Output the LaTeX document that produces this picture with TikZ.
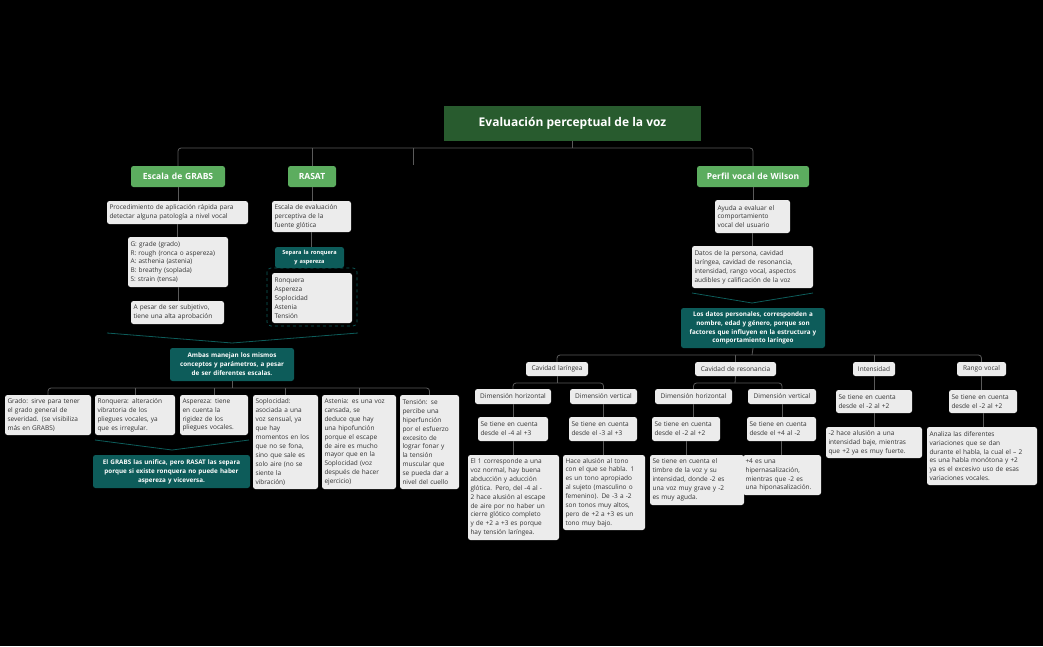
\documentclass[tikz,border=0pt]{standalone}
\usepackage{fontspec}
\setmainfont{Open Sans}
\definecolor{bg}{HTML}{000000}
\definecolor{ttl}{HTML}{285B2E}
\definecolor{grn}{HTML}{5CAD5F}
\definecolor{tl}{HTML}{0D5C5A}
\definecolor{lb}{HTML}{ECECEC}
\definecolor{ln}{HTML}{5A5A5A}
\newcommand\nohy{\hyphenpenalty=10000\relax\exhyphenpenalty=10000\relax}
\tikzset{
 lbox/.style={fill=lb,rounded corners=2.5pt,text=black!80,align=left,font=\fontsize{6.5}{8.9}\selectfont\nohy},
 tbox/.style={fill=tl,rounded corners=2.5pt,text=white,align=center,font=\bfseries\fontsize{6.3}{8.9}\selectfont\nohy},
 gbox/.style={fill=grn,rounded corners=2.5pt,text=white,align=center,font=\bfseries\fontsize{8.5}{10}\selectfont},
 conn/.style={draw=ln,line width=0.8pt,rounded corners=3pt},
 brc/.style={draw=tl,line width=0.8pt},
}
\newcommand\bx[7]{%
 \pgfmathsetmacro\bw{#5-#3}\pgfmathsetmacro\bh{#6-#4}\pgfmathsetmacro\tw{#5-#3-5}%
 \node[#2,inner xsep=2.5pt,inner ysep=1.5pt,minimum width=\bw pt,minimum height=\bh pt,text width=\tw pt] (#1) at ({(#3+#5)/2},{(#4+#6)/2}) {#7};}
\begin{document}
\begin{tikzpicture}[x=1pt,y=-1pt]
\fill[bg] (0,0) rectangle (1043,646);
\useasboundingbox (0,0) rectangle (1043,646);
% title and level 1
\node[fill=ttl,text=white,font=\bfseries\fontsize{12}{14}\selectfont,minimum width=257pt,minimum height=35pt] (title) at (572.5,123.5) {Evaluación perceptual de la voz};
\bx{grabs}{gbox,align=center}{131}{166}{225}{187}{Escala de GRABS}
\bx{rasat}{gbox,align=center}{288}{166}{336}{187}{RASAT}
\bx{wil}{gbox,align=center}{697}{166}{809}{187}{Perfil vocal de Wilson}
\coordinate (tb) at (413,148);
\draw[conn] (grabs.north) |- (tb) -| (wil.north);
\draw[conn] (rasat.north) -- (rasat.north |- tb);
\draw[conn] (title.south) -- (title.south |- tb);
\draw[conn] (tb) -- ++(0,17) coordinate (stub);
% GRABS
\bx{proc}{lbox}{107}{201}{248}{224}{Procedimiento de aplicación rápida para\\detectar alguna patología a nivel vocal}
\bx{list}{lbox}{128}{237}{228}{287}{G: grade (grado)\\R: rough (ronca o aspereza)\\A: asthenia (astenia)\\B: breathy (soplada)\\S: strain (tensa)}
\bx{apesar}{lbox}{131}{301}{224}{324}{A pesar de ser subjetivo,\\tiene una alta aprobación}
\draw[conn] (grabs.south) -- (grabs.south |- proc.north);
\draw[conn] (proc.south) -- (proc.south |- list.north);
\draw[conn] (list.south) -- (list.south |- apesar.north);
% RASAT
\bx{esc}{lbox}{272}{201}{351}{232}{Escala de evaluación\\perceptiva de la\\fuente glótica}
\bx{sep}{tbox,align=center}{275}{247}{344}{268}{\fontsize{5.6}{8}\selectfont Separa la ronquera\\y aspereza}
\draw[tl,dashed,line width=0.7pt,rounded corners=4pt] (267,268) rectangle (357,326);
\bx{rlist}{lbox}{272}{273}{352}{323}{Ronquera\\Aspereza\\Soplocidad\\Astenia\\Tensión}
\draw[conn] (rasat.south) -- (rasat.south |- esc.north);
\draw[conn] (esc.south) -- (esc.south |- sep.north);
% brace 1
\coordinate (b1a) at (107,333); \coordinate (b1b) at (232,343); \coordinate (b1c) at (358,333);
\draw[brc] (b1a) -- (b1b) -- (b1c);
\bx{ambas}{tbox}{170}{348}{294}{381}{Ambas manejan los mismos\\conceptos y parámetros, a pesar\\de ser diferentes escalas.}
\bx{grado}{lbox}{5}{395}{91}{435}{Grado: sirve para tener\\el grado general de\\severidad. (se visibiliza\\más en GRABS)}
\bx{ronq}{lbox}{95}{395}{175}{435}{Ronquera: alteración\\vibratoria de los\\pliegues vocales, ya\\que es irregular.}
\bx{asp}{lbox}{180}{395}{248}{435}{Aspereza: tiene\\en cuenta la\\rigidez de los\\pliegues vocales.}
\bx{sopl}{lbox}{253}{395}{318}{489}{Soplocidad:\\asociada a una\\voz sensual, ya\\que hay\\momentos en los\\que no se fona,\\sino que sale es\\solo aire (no se\\siente la\\vibración)}
\bx{aste}{lbox}{322}{395}{396}{489}{Astenia: es una voz\\cansada, se\\deduce que hay\\una hipofunción\\porque el escape\\de aire es mucho\\mayor que en la\\Soplocidad (voz\\después de hacer\\ejercicio)}
\bx{tens}{lbox}{400}{395}{459}{489}{Tensión: se\\percibe una\\hiperfunción\\por el esfuerzo\\excesito de\\lograr fonar y\\la tensión\\muscular que\\se pueda dar a\\nivel del cuello}
\coordinate (ab) at (232,388);
\draw[conn] (ambas.south) -- (ab);
\draw[conn] (grado.north) |- (ab) -| (tens.north);
\foreach \n in {ronq,asp,sopl,aste} \draw[conn] (\n.north) -- (\n.north |- ab);
\coordinate (b2a) at (95,440); \coordinate (b2b) at (172,450); \coordinate (b2c) at (249,440);
\draw[brc] (b2a) -- (b2b) -- (b2c);
\bx{unif}{tbox}{93}{455}{250}{488}{El GRABS las unifica, pero RASAT las separa\\porque si existe ronquera no puede haber\\aspereza y viceversa.}
% Wilson
\bx{ayuda}{lbox}{715}{200}{790}{233}{Ayuda a evaluar el\\comportamiento\\vocal del usuario}
\bx{datos}{lbox}{692}{246}{813}{288}{Datos de la persona, cavidad\\laríngea, cavidad de resonancia,\\intensidad, rango vocal, aspectos\\audibles y calificación de la voz}
\draw[conn] (wil.south) -- (wil.south |- ayuda.north);
\draw[conn] (ayuda.south) -- (ayuda.south |- datos.north);
\coordinate (b3a) at (692,293); \coordinate (b3b) at (752,303); \coordinate (b3c) at (813,293);
\draw[brc] (b3a) -- (b3b) -- (b3c);
\bx{pers}{tbox}{681}{308}{825}{348}{Los datos personales, corresponden a\\nombre, edad y género, porque son\\factores que influyen en la estructura y\\comportamiento laríngeo}
\bx{lar}{lbox,align=center}{526}{362}{588}{376}{Cavidad laríngea}
\bx{res}{lbox,align=center}{695}{362}{776}{376}{Cavidad de resonancia}
\bx{inten}{lbox,align=center}{853}{362}{895}{376}{Intensidad}
\bx{rango}{lbox,align=center}{957}{362}{1006}{376}{Rango vocal}
\coordinate (pb) at (752,355);
\draw[conn] (pers.south) -- (pb);
\draw[conn] (lar.north) |- (pb) -| (rango.north);
\foreach \n in {res,inten} \draw[conn] (\n.north) -- (\n.north |- pb);
\bx{lh}{lbox,align=center}{475}{389}{551}{404}{Dimensión horizontal}
\bx{lv}{lbox,align=center}{570}{389}{637}{404}{Dimensión vertical}
\bx{rh}{lbox,align=center}{655}{389}{732}{404}{Dimensión horizontal}
\bx{rv}{lbox,align=center}{748}{389}{816}{404}{Dimensión vertical}
\coordinate (lb) at (557,383); \coordinate (rb) at (735,383);
\draw[conn] (lar.south) -- (lb); \draw[conn] (lh.north) |- (lb) -| (lv.north);
\draw[conn] (res.south) -- (rb); \draw[conn] (rh.north) |- (rb) -| (rv.north);
\bx{s1}{lbox}{478}{417}{548}{441}{Se tiene en cuenta\\desde el -4 al +3}
\bx{s2}{lbox}{569}{417}{637}{441}{Se tiene en cuenta\\desde el -3 al +3}
\bx{s3}{lbox}{652}{417}{720}{441}{Se tiene en cuenta\\desde el -2 al +2}
\bx{s4}{lbox}{747}{417}{816}{441}{Se tiene en cuenta\\desde el +4 al -2}
\bx{s5}{lbox}{836}{390}{912}{413}{Se tiene en cuenta\\desde el -2 al +2}
\bx{s6}{lbox}{949}{390}{1017}{413}{Se tiene en cuenta\\desde el -2 al +2}
\bx{d1}{lbox}{468}{455}{559}{540}{El 1 corresponde a una\\voz normal, hay buena\\abducción y aducción\\glótica. Pero, del -4 al -\\2 hace alusión al escape\\de aire por no haber un\\cierre glótico completo\\y de +2 a +3 es porque\\hay tensión laríngea.}
\bx{d2}{lbox}{563}{455}{645}{530}{Hace alusión al tono\\con el que se habla. 1\\es un tono apropiado\\al sujeto (masculino o\\femenino). De -3 a -2\\son tonos muy altos,\\pero de +2 a +3 es un\\tono muy bajo.}
\bx{d3}{lbox}{650}{455}{744}{505}{Se tiene en cuenta el\\timbre de la voz y su\\intensidad, donde -2 es\\una voz muy grave y -2\\es muy aguda.}
\bx{d4}{lbox}{743}{455}{821}{495}{+4 es una\\hipernasalización,\\mientras que -2 es\\una hiponasalización.}
\bx{d5}{lbox}{826}{427}{922}{458}{-2 hace alusión a una\\intensidad baje, mientras\\que +2 ya es muy fuerte.}
\bx{d6}{lbox}{927}{427}{1037}{485}{Analiza las diferentes\\variaciones que se dan\\durante el habla, la cual el – 2\\es una habla monótona y +2\\ya es el excesivo uso de esas\\variaciones vocales.}
\draw[conn] (lh.south) -- (lh.south |- s1.north); \draw[conn] (s1.south) -- (s1.south |- d1.north);
\draw[conn] (lv.south) -- (lv.south |- s2.north); \draw[conn] (s2.south) -- (s2.south |- d2.north);
\draw[conn] (rh.south) -- (rh.south |- s3.north); \draw[conn] (s3.south) -- (s3.south |- d3.north);
\draw[conn] (rv.south) -- (rv.south |- s4.north); \draw[conn] (s4.south) -- (s4.south |- d4.north);
\draw[conn] (inten.south) -- (inten.south |- s5.north); \draw[conn] (s5.south) -- (s5.south |- d5.north);
\draw[conn] (rango.south) -- (rango.south |- s6.north); \draw[conn] (s6.south) -- (s6.south |- d6.north);
\end{tikzpicture}
\end{document}
